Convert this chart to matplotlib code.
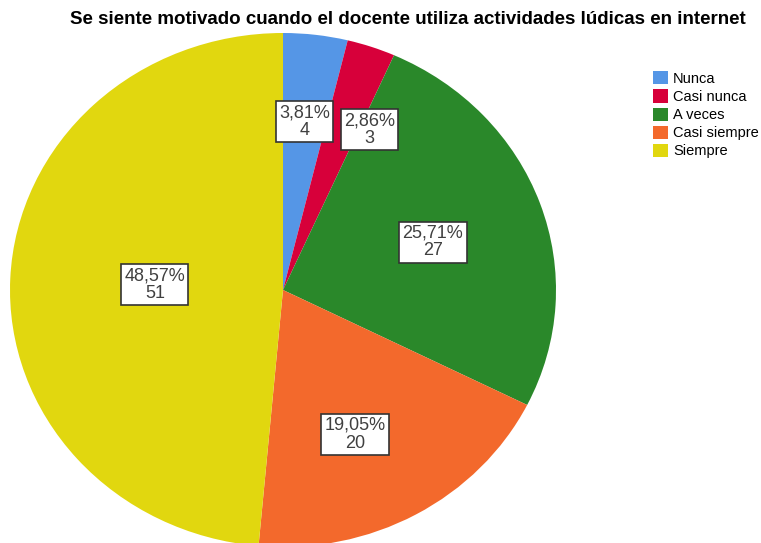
# Third party modules #
import numpy as np
import matplotlib
matplotlib.use('Agg')
from matplotlib import pyplot

# Data #
categories = ['Nunca', 'Casi nunca', 'A veces', 'Casi siempre', 'Siempre']
counts     = [4, 3, 27, 20, 51]
percents   = ['3,81%', '2,86%', '25,71%', '19,05%', '48,57%']

# Style #
colors  = ['#5596e6', '#d7003a', '#2a882a', '#f3692c', '#e1d70f']
label_r = [0.66, 0.70, 0.58, 0.62, 0.47]
label_shift = [0.0, 8.0, 1.0, 4.0, 0.0]
pyplot.rcParams['font.family'] = ['Liberation Sans', 'DejaVu Sans']

################################################################################
fig = pyplot.figure(figsize=(7.61, 5.43), dpi=100)
W, H = 761.0, 543.0
axes = fig.add_axes([10/W, -4/H, 546/W, 514/H])
wedges, _ = axes.pie(counts, colors=colors, startangle=90, counterclock=False,
                     wedgeprops=dict(linewidth=0))
axes.set_aspect('auto')
axes.set_xlim(-1, 1)
axes.set_ylim(-1, 1)
axes.axis('off')

# Labels #
for w, pct, n, r, s in zip(wedges, percents, counts, label_r, label_shift):
    ang = np.deg2rad((w.theta1 + w.theta2) / 2.0 - s)
    axes.text(r*np.cos(ang), r*np.sin(ang), '%s\n%d' % (pct, n),
              ha='center', va='center', fontsize=13, color='#404040',
              linespacing=1.05,
              bbox=dict(boxstyle='square,pad=0.18', facecolor='white',
                        edgecolor='#333333', linewidth=1.2))

# Title #
fig.text(408/W, 1 - 20/H, 'Se siente motivado cuando el docente utiliza actividades lúdicas en internet',
         ha='center', va='center', fontsize=13.5, fontweight='bold')

# Legend #
fig.legend(wedges, categories, loc='upper left', bbox_to_anchor=(646/W, 1 - 64/H),
           frameon=False, fontsize=10.5, handlelength=1.0, handleheight=1.0,
           handletextpad=0.35, labelspacing=0.25, borderpad=0)

fig.savefig('out.png', dpi=100)
pyplot.close(fig)
